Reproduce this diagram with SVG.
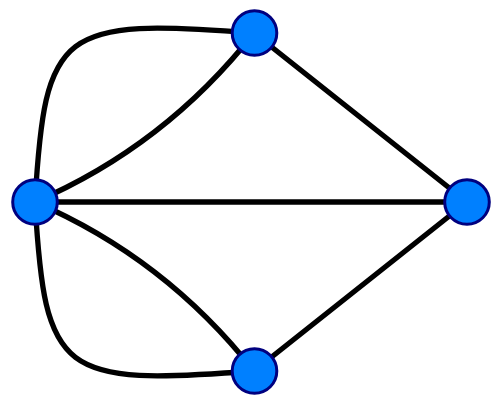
<svg xmlns="http://www.w3.org/2000/svg" width="500" height="400" viewBox="0 0 500 400">
<style>
.edge{fill:none;stroke:#000;stroke-width:5.3;stroke-linecap:round}
.node{fill:#0080ff;stroke:#00007f;stroke-width:3}
</style>
<rect width="500" height="400" fill="#fff"/>
<g id="edges">
<path class="edge" d="M35,202 C 45,28 60,18 254,33"/>
<path class="edge" d="M35,202 Q 165,146 254,33"/>
<path class="edge" d="M35,202 C 45,376 60,386 254,371"/>
<path class="edge" d="M35,202 Q 165,258 254,371"/>
<path class="edge" d="M35,202 L467,202"/>
<path class="edge" d="M254,33 L467,202"/>
<path class="edge" d="M254,371 L467,202"/>
</g>
<g id="left"><circle class="node" cx="35" cy="202" r="22.3"/></g>
<g id="top"><circle class="node" cx="254.5" cy="33" r="22.3"/></g>
<g id="right"><circle class="node" cx="467" cy="202" r="22.3"/></g>
<g id="bottom"><circle class="node" cx="254.5" cy="371" r="22.3"/></g>
</svg>
